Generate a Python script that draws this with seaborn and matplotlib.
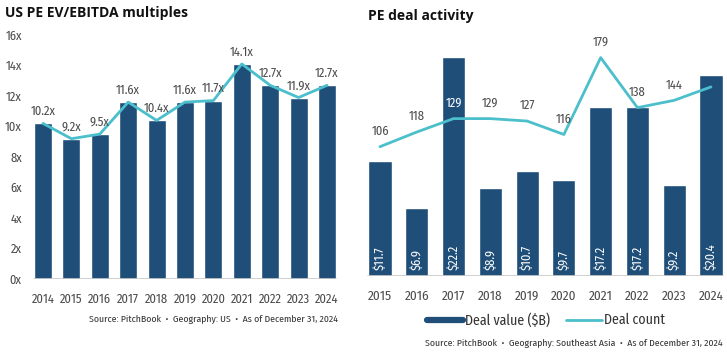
import matplotlib
matplotlib.use("Agg")
import matplotlib.pyplot as plt
from matplotlib.lines import Line2D
import seaborn as sns
import numpy as np
import pandas as pd

# ---- data ----
us_years = ["2014", "2015", "2016", "2017", "2018", "2019", "2020", "2021", "2022", "2023", "2024"]
us_multiples = [10.2, 9.2, 9.5, 11.6, 10.4, 11.6, 11.7, 14.1, 12.7, 11.9, 12.7]
us_yticks = [0, 2, 4, 6, 8, 10, 12, 14, 16]

sea_years = ["2015", "2016", "2017", "2018", "2019", "2020", "2021", "2022", "2023", "2024"]
sea_deal_value = [11.7, 6.9, 22.2, 8.9, 10.7, 9.7, 17.2, 17.2, 9.2, 20.4]
sea_deal_count = [106, 118, 129, 129, 127, 116, 179, 138, 144, 155]

BAR = "#1f4e79"
LINE = "#4bbfcb"
GRAY = "#4a4a4a"

sns.set_theme(style="white")
plt.rcParams["font.family"] = ["Fira Sans Condensed", "Roboto Condensed", "DejaVu Sans"]
plt.rcParams["font.weight"] = "normal"
TITLE_FONT = ["Open Sans", "DejaVu Sans"]

W, H = 727, 352
fig = plt.figure(figsize=(W / 100, H / 100), dpi=100)

def fx(px):
    return px / W

def fy(py):
    return 1 - py / H

# ---------------- left chart ----------------
n1 = len(us_years)
sp1 = (327 - 43) / (n1 - 1)
l1 = 43 - sp1 / 2
ax1 = fig.add_axes([fx(l1), (H - 279) / H, (sp1 * n1) / W, 244 / H])
df1 = pd.DataFrame({"year": us_years, "mult": us_multiples})
sns.barplot(data=df1, x="year", y="mult", color=BAR, saturation=1, width=0.64, ax=ax1, zorder=2)
sns.lineplot(x=np.arange(n1), y=us_multiples, color=LINE, linewidth=2, ax=ax1, zorder=3)
ax1.set_xlim(-0.5, n1 - 0.5)
ax1.set_ylim(0, 16)
ax1.set_yticks(us_yticks)
ax1.set_yticklabels([f"{t}x" for t in us_yticks])
for s in ax1.spines.values():
    s.set_visible(False)
ax1.axhline(0, xmin=0.18 / n1, xmax=1 - 0.18 / n1, color="#c8c8c8", lw=1.2, zorder=4)
ax1.tick_params(axis="y", length=0, pad=5, labelsize=9, labelcolor=GRAY)
ax1.tick_params(axis="x", length=0, pad=10, labelsize=9, labelcolor=GRAY)
ax1.set_xlabel("")
ax1.set_ylabel("")
ax1.patch.set_alpha(0)
for i, v in enumerate(us_multiples):
    ax1.annotate(f"{v:.1f}x", (i, v), xytext=(0, 8.5), textcoords="offset points",
                 ha="center", va="center", fontsize=9, color=GRAY)

fig.text(fx(5), fy(13), "US PE EV/EBITDA multiples", fontsize=10, fontweight="bold",
         color="#111111", va="center", ha="left", family=TITLE_FONT)
fig.text(fx(338), fy(319), "Source: PitchBook  \u2022  Geography: US  \u2022  As of December 31, 2024",
         fontsize=7, color="#333333", ha="right", va="center")

# ---------------- right chart ----------------
n2 = len(sea_years)
sp2 = (711 - 380) / (n2 - 1)
l2 = 380 - sp2 / 2
ax2 = fig.add_axes([fx(l2), (H - 276) / H, (W - l2) / W, 244 / H])
df2 = pd.DataFrame({"year": sea_years, "value": sea_deal_value})
sns.barplot(data=df2, x="year", y="value", color=BAR, saturation=1, width=0.63, ax=ax2, zorder=2)
xmax2 = -0.5 + (W - l2) / sp2
ax2.set_xlim(-0.5, xmax2)
ax2.set_ylim(0, 24.77)
ax2.set_yticks([])
for s in ax2.spines.values():
    s.set_visible(False)
span = xmax2 + 0.5
ax2.axhline(0, xmin=0.18 / span, xmax=(n2 - 0.18) / span, color="#c8c8c8", lw=1.2, zorder=4)
ax2.tick_params(axis="x", length=0, pad=10, labelsize=9.5, labelcolor=GRAY)
ax2.set_xlabel("")
ax2.set_ylabel("")
for i, v in enumerate(sea_deal_value):
    ax2.annotate(f"${v:.1f}", (i, 0), xytext=(0, 4.5), textcoords="offset points",
                 ha="center", va="bottom", rotation=90, fontsize=9, color="white")

ax3 = ax2.twinx()
ax3.set_position(ax2.get_position())
sns.lineplot(x=np.arange(n2), y=sea_deal_count, color=LINE, linewidth=2, ax=ax3)
ax3.set_xlim(ax2.get_xlim())
ax3.set_ylim(0, 200)
ax3.set_yticks([])
ax3.set_ylabel("")
for s in ax3.spines.values():
    s.set_visible(False)
bar_to_count = 200 / 24.77
for i, c in enumerate(sea_deal_count):
    inside = (c + 9) < sea_deal_value[i] * bar_to_count
    ax3.annotate(f"{c}", (i, c), xytext=(0, 11), textcoords="offset points",
                 ha="center", va="center", fontsize=9,
                 color="white" if inside else GRAY)

handles = [Line2D([0], [0], color=BAR, lw=4.5), Line2D([0], [0], color=LINE, lw=2)]
fig.legend(handles, ["Deal value ($B)", "Deal count"], loc="center",
           bbox_to_anchor=(fx(546), fy(320)), ncol=2, frameon=False, fontsize=10,
           handlelength=2.6, handletextpad=0.1, columnspacing=1.2, labelcolor="#333333")

fig.text(fx(368), fy(16), "PE deal activity", fontsize=10, fontweight="bold",
         color="#111111", va="center", ha="left", family=TITLE_FONT)
fig.text(fx(723), fy(343),
         "Source: PitchBook  \u2022  Geography: Southeast Asia  \u2022  As of December 31, 2024",
         fontsize=7, color="#333333", ha="right", va="center")

fig.savefig("out.png", dpi=100)
